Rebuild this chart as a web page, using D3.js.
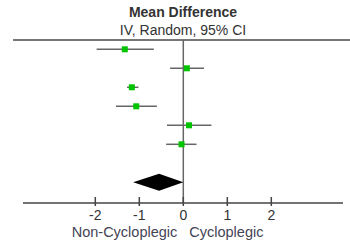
<!DOCTYPE html>
<html><head><meta charset="utf-8">
<script src="https://cdn.jsdelivr.net/npm/d3@7"></script>
<style>body{margin:0;background:#fff;}svg{display:block;}</style>
</head><body>
<script>
const studies = ["Study 1","Study 2","Study 3","Study 4","Study 5","Study 6"];
const means = [-1.33, 0.08, -1.17, -1.07, 0.13, -0.04];
const lowers = [-1.97, -0.30, -1.28, -1.53, -0.37, -0.39];
const uppers = [-0.67, 0.47, -1.02, -0.60, 0.64, 0.30];
const pooled = {mean: -0.55, lower: -1.14, upper: 0.0};
const tickValues = [-2, -1, 0, 1, 2];
const titleLines = ["Mean Difference", "IV, Random, 95% CI"];
const favourLeft = "Non-Cycloplegic";
const favourRight = "Cycloplegic";

const W = 350, H = 243;
const svg = d3.select("body").append("svg").attr("width", W).attr("height", H);
const font = "'Liberation Sans', Arial, sans-serif";

const x = d3.scaleLinear().domain([-2, 2]).range([95.3, 271.3]);
const rowKeys = studies.concat(["blank", "Total"]);
const y = d3.scalePoint().domain(rowKeys).range([49.3, 182.3]);

// title
svg.append("text").attr("x", 183).attr("y", 17).attr("text-anchor", "middle")
  .attr("font-family", font).attr("font-size", 14).attr("font-weight", "bold").attr("fill", "#333")
  .text(titleLines[0]);
svg.append("text").attr("x", 183).attr("y", 35).attr("text-anchor", "middle")
  .attr("font-family", font).attr("font-size", 14).attr("fill", "#333")
  .text(titleLines[1]);

// top rule
svg.append("line").attr("x1", 13).attr("x2", 350).attr("y1", 40).attr("y2", 40)
  .attr("stroke", "#777").attr("stroke-width", 2);

// zero line
svg.append("line").attr("x1", x(0)).attr("x2", x(0)).attr("y1", 40).attr("y2", 203)
  .attr("stroke", "#666").attr("stroke-width", 1.5);

// CIs
const rows = studies.map((s, i) => ({s, m: means[i], lo: lowers[i], hi: uppers[i]}));
svg.selectAll("line.ci").data(rows).enter().append("line").attr("class", "ci")
  .attr("x1", d => x(d.lo)).attr("x2", d => x(d.hi))
  .attr("y1", d => y(d.s)).attr("y2", d => y(d.s))
  .attr("stroke", "#666").attr("stroke-width", 1.5);
svg.selectAll("rect.pt").data(rows).enter().append("rect").attr("class", "pt")
  .attr("x", d => x(d.m) - 3).attr("y", d => y(d.s) - 3)
  .attr("width", 6).attr("height", 6).attr("fill", "#00c400");

// diamond
const yt = y("Total");
svg.append("path")
  .attr("d", `M${x(pooled.lower)},${yt} L${x(pooled.mean)},${yt - 8.5} L${x(pooled.upper)},${yt} L${x(pooled.mean)},${yt + 8.5} Z`)
  .attr("fill", "#000");

// axis
const axisY = 203;
svg.append("line").attr("x1", 23).attr("x2", 343).attr("y1", axisY).attr("y2", axisY)
  .attr("stroke", "#444").attr("stroke-width", 1.5);
const ax = svg.append("g");
ax.selectAll("line").data(tickValues).enter().append("line")
  .attr("x1", d => x(d)).attr("x2", d => x(d)).attr("y1", axisY - 6).attr("y2", axisY + 3)
  .attr("stroke", "#444").attr("stroke-width", 1.5);
ax.selectAll("text").data(tickValues).enter().append("text")
  .attr("x", d => x(d)).attr("y", 220).attr("text-anchor", "middle")
  .attr("font-family", font).attr("font-size", 14).attr("fill", "#333")
  .text(d => d < 0 ? "-" + Math.abs(d) : d);

svg.append("text").attr("x", 177.3).attr("y", 236.5).attr("text-anchor", "end")
  .attr("font-family", font).attr("font-size", 14.5).attr("fill", "#445")
  .text(favourLeft);
svg.append("text").attr("x", 189.3).attr("y", 236.5).attr("text-anchor", "start")
  .attr("font-family", font).attr("font-size", 14.5).attr("fill", "#445")
  .text(favourRight);
</script>
</body></html>
